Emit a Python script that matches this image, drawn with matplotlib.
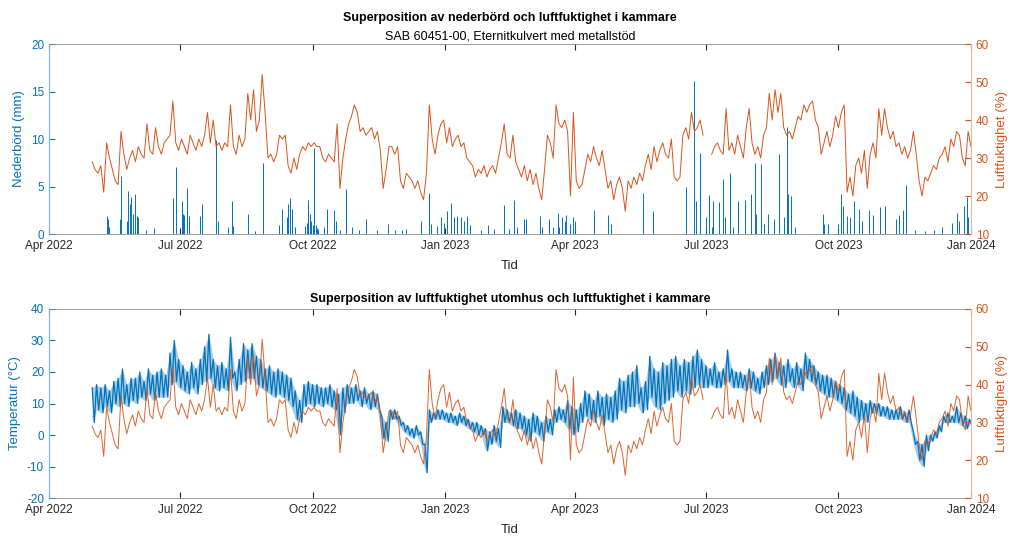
import numpy as np
import matplotlib
matplotlib.use('Agg')
import matplotlib.pyplot as plt
import matplotlib.dates as mdates

plt.rcParams['font.family'] = ['Liberation Sans', 'DejaVu Sans']
plt.rcParams['axes.unicode_minus'] = False

nan = np.nan

# mätningar börjar 1 maj 2022
START = np.datetime64('2022-05-01')

# luftfuktighet i kammare (%), ett värde varannan dag
HUM_STEP = 2
HUMIDITY = [
    29, 27, 26, 28, 21, 34, 30, 27, 24, 23,
    37, 31, 27, 30, 32, 29, 33, 31, 30, 39,
    32, 31, 38, 33, 31, 34, 35, 36, 45, 34,
    32, 35, 33, 31, 36, 34, 32, 35, 33, 36,
    42, 34, 40, 33, 34, 32, 34, 33, 44, 33,
    31, 36, 33, 35, 47, 40, 48, 37, 40, 52,
    42, 30, 31, 29, 31, 36, 35, 36, 28, 26,
    30, 27, 31, 33, 32, 34, 33, 34, 33, 33,
    30, 29, 31, 30, 29, 39, 22, 30, 35, 39,
    41, 44, 42, 37, 38, 36, 37, 38, 35, 37,
    32, 22, 27, 33, 33, 31, 33, 24, 22, 26,
    25, 24, 22, 24, 21, 19, 26, 44, 35, 31,
    36, 39, 40, 34, 38, 33, 35, 36, 33, 34,
    30, 29, 28, 25, 27, 26, 28, 25, 27, 28,
    26, 30, 34, 39, 31, 30, 36, 29, 27, 25,
    28, 24, 27, 23, 26, 22, 19, 27, 36, 34,
    30, 44, 39, 38, 40, 37, 20, 42, 24, 22,
    23, 27, 31, 29, 33, 30, 28, 32, 27, 22,
    24, 19, 23, 25, 22, 16, 24, 22, 25, 23,
    26, 24, 28, 31, 27, 33, 29, 32, 34, 31,
    30, 35, 25, 24, 25, 36, 38, 35, 42, 37,
    38, 40, 36, nan, nan, 31, 33, 34, 32, 31,
    43, 32, 34, 31, 36, 33, 30, 38, 43, 34,
    31, 33, 30, 36, 38, 47, 40, 48, 42, 47,
    38, 36, 37, 35, 38, 41, 40, 44, 42, 44,
    45, 40, 38, 31, 34, 37, 33, 36, 41, 38,
    42, 44, 21, 25, 20, 28, 30, 26, 32, 22,
    31, 34, 30, 43, 36, 43, 38, 35, 37, 33,
    34, 31, 33, 30, 32, 37, 31, 24, 20, 25,
    24, 26, 28, 27, 30, 31, 33, 29, 35, 33,
    37, 36, 30, 28, 37, 33,
]

# utomhustemperatur (°C), dygnets max/min var tredje dag
TEMP_STEP = 3
TEMP_HIGH = [
    15, 16, 15, 16, 14, 17, 18, 21, 16, 18,
    18, 20, 17, 21, 19, 20, 21, 19, 26, 30,
    24, 22, 20, 23, 21, 24, 28, 32, 24, 22,
    23, 21, 31, 20, 24, 29, 27, 29, 25, 24,
    21, 22, 20, 21, 20, 19, 18, 14, 11, 16,
    17, 16, 16, 15, 15, 16, 14, 13, 15, 16,
    15, 16, 14, 15, 13, 14, 13, 6, 4, 8,
    8, 6, 4, 3, 2, 3, 1, -3, 8, 7,
    8, 8, 7, 7, 6, 7, 6, 5, 4, 4,
    3, 2, 1, 3, 2, 9, 8, 7, 8, 7,
    6, 5, 7, 6, 4, 6, 5, 8, 9, 8,
    11, 9, 8, 10, 14, 13, 11, 14, 12, 13,
    12, 14, 18, 17, 19, 20, 22, 15, 17, 25,
    21, 20, 23, 22, 24, 25, 22, 24, 23, 25,
    27, 24, 22, 21, 23, 20, 21, 27, 21, 20,
    20, 19, 21, 20, 18, 20, 22, 24, 26, 23,
    22, 24, 21, 23, 21, 26, 24, 22, 20, 19,
    19, 18, 17, 16, 15, 13, 14, 12, 11, 10,
    11, 10, 10, 9, 9, 8, 8, 9, 7, 8,
    1, -2, -3, 0, 0, 1, 3, 6, 7, 6,
    9, 7, 6, 5,
]
TEMP_LOW = [
    4, 8, 7, 9, 7, 10, 9, 10, 9, 11,
    10, 12, 11, 13, 11, 12, 12, 12, 16, 17,
    15, 14, 13, 15, 13, 16, 17, 18, 15, 14,
    15, 14, 18, 14, 16, 17, 18, 18, 16, 15,
    14, 13, 12, 13, 12, 11, 9, 5, 4, 9,
    10, 9, 10, 9, 10, 9, 8, 0, 7, 10,
    10, 11, 9, 10, 8, 9, 8, -1, -2, 5,
    5, 3, 1, 0, -1, 0, -3, -12, 4, 5,
    5, 5, 4, 4, 3, 4, 3, 2, 1, 0,
    0, -5, -3, -2, -4, 4, 4, 3, 2, 2,
    0, -2, 1, 0, -2, 1, 0, 4, 5, 4,
    2, 0, 1, 4, 6, 5, 4, 6, 3, 5,
    4, 5, 8, 7, 9, 9, 10, 7, 8, 12,
    9, 8, 10, 11, 12, 14, 12, 14, 13, 15,
    16, 15, 15, 16, 15, 15, 16, 17, 15, 15,
    15, 14, 15, 14, 13, 15, 16, 17, 18, 16,
    15, 17, 15, 16, 14, 18, 17, 16, 14, 13,
    12, 12, 11, 10, 8, 7, 6, 4, 5, 4,
    7, 7, 6, 6, 5, 5, 5, 5, 4, 4,
    -3, -8, -10, -5, -2, -1, 1, 4, 4, 4,
    4, 3, 2, 3,
]

# nederbörd: dag efter START och mängd (mm)
RAIN_DAY = [
    10, 11, 12, 19, 20, 24, 25, 26, 27, 28, 30, 31, 32, 37, 43,
    56, 58, 62, 63, 64, 66, 67, 75, 76, 86, 87, 94, 97, 98, 108, 113, 118.5,
    130, 132, 135, 136, 137, 139, 141, 148, 149, 150, 151, 152, 153, 154,
    155, 156, 157, 161, 163, 168, 169, 172, 176, 180, 185, 190, 198, 205,
    210, 215, 218, 228, 233.5, 235, 239, 242, 244, 246, 249, 251, 253, 256,
    258, 260, 262, 270, 275, 279, 286, 289, 293, 295,
    300, 301, 311, 312, 317, 320, 323, 324, 326, 328, 329, 332, 334, 335,
    348, 358, 360, 382, 389, 412.5, 418, 419, 422, 426, 428, 430, 431, 435,
    438, 439, 443, 445, 448, 453, 457, 460, 461, 464, 466, 469, 473, 477,
    480, 482, 483, 485, 488, 507, 508, 511, 518, 520, 521, 524, 526, 529,
    532, 534, 539, 542, 547, 550, 558, 560, 563, 565, 571, 578, 584, 590,
    597, 600, 602, 605, 607, 608, 610,
]
RAIN_MM = [
    1.9, 1.6, 0.7, 1.6, 6.1, 1.4, 4.5, 3.2, 3.9, 2.1, 4.2, 1.9, 1.8, 0.4, 0.6,
    3.8, 7.1, 3.5, 2.1, 2.0, 4.8, 1.9, 1.9, 3.2, 9.9, 1.4, 0.7, 3.5, 0.8, 2.1, 0.3, 7.5,
    0.9, 2.6, 1.8, 3.2, 3.8, 2.6, 0.7, 0.8, 1.2, 3.6, 2.1, 1.4, 0.9, 9.1,
    1.0, 0.6, 0.5, 0.7, 2.6, 2.5, 1.4, 0.4, 4.7, 0.7, 0.4, 1.6, 0.4, 1.1,
    0.4, 0.4, 0.5, 1.4, 4.3, 1.1, 0.8, 1.8, 1.2, 2.4, 3.3, 1.8, 1.9, 1.8,
    1.4, 1.9, 0.9, 0.4, 1.0, 0.5, 3.1, 0.5, 3.6, 0.7,
    1.6, 1.6, 1.9, 0.7, 1.6, 0.7, 2.2, 0.7, 1.8, 1.4, 2.0, 1.1, 1.8, 1.4,
    2.5, 2.0, 1.1, 4.3, 2.4, 5.0, 16.1, 3.5, 8.5, 1.8, 4.1, 0.7, 3.5, 3.4,
    5.8, 1.8, 6.4, 0.7, 3.5, 3.6, 4.2, 7.5, 2.1, 7.4, 1.1, 2.1, 1.6, 8.4,
    1.8, 11.3, 4.2, 4.0, 0.7, 2.1, 1.1, 1.1, 1.1, 4.2, 3.0, 1.9, 1.8, 3.5,
    2.6, 1.4, 2.5, 2.0, 2.8, 2.9, 1.6, 2.0, 2.5, 5.2, 0.4, 0.3, 0.4, 0.7,
    1.2, 2.2, 1.4, 3.0, 3.9, 1.8, 1.7,
]

BLUE = '#0072BD'
ORANGE = '#D95319'
XLIM = (np.datetime64('2022-04-01'), np.datetime64('2024-01-01'))


def to_time(days):
    hours = np.round(np.asarray(days, dtype=float) * 24).astype(int)
    return START + hours.astype('timedelta64[h]')


hum_t = to_time(np.arange(len(HUMIDITY)) * HUM_STEP)
idx = np.arange(len(TEMP_HIGH)) * TEMP_STEP
temp_t = to_time(np.column_stack((idx, idx + TEMP_STEP / 2)).ravel())
temp_v = np.column_stack((TEMP_HIGH, TEMP_LOW)).ravel()
band_t = to_time(idx)
rain_t = to_time(RAIN_DAY)


def style(ax, axr, left_label, ylim, yticks):
    ax.set_xlim(*XLIM)
    ax.set_ylim(*ylim)
    ax.set_yticks(yticks)
    axr.set_ylim(10, 60)
    axr.set_yticks(range(10, 61, 10))
    ax.xaxis.set_major_locator(mdates.MonthLocator(bymonth=[1, 4, 7, 10]))
    ax.xaxis.set_major_formatter(mdates.DateFormatter('%b %Y'))
    ax.tick_params(axis='x', direction='in', length=4, top=True,
                   labelsize=8.5, colors='#262626', pad=4)
    ax.tick_params(axis='y', direction='in', length=4, labelsize=8.5,
                   colors=BLUE, labelcolor=BLUE)
    axr.tick_params(axis='y', direction='in', length=4, labelsize=8.5,
                    colors=ORANGE, labelcolor=ORANGE)
    ax.set_ylabel(left_label, color=BLUE, fontsize=9.5, labelpad=4)
    axr.set_ylabel('Luftfuktighet (%)', color=ORANGE, fontsize=9.5, labelpad=5)
    ax.set_xlabel('Tid', fontsize=9.5, color='#262626', labelpad=6)
    for s in ['top', 'bottom']:
        ax.spines[s].set_color('#8a8a8a')
        ax.spines[s].set_linewidth(0.6)
        axr.spines[s].set_visible(False)
    ax.spines['right'].set_visible(False)
    axr.spines['left'].set_visible(False)
    ax.spines['left'].set_color('#7fb3d8')
    axr.spines['right'].set_color('#e3b89f')
    ax.spines['left'].set_linewidth(0.8)
    axr.spines['right'].set_linewidth(0.8)


fig = plt.figure(figsize=(10.14, 5.37), dpi=100)

# övre: nederbörd och luftfuktighet
ax1 = fig.add_axes([0.0483, 0.5642, 0.9093, 0.3538])
ax1r = ax1.twinx()
ax1.vlines(rain_t, 0, RAIN_MM, color=BLUE, linewidth=0.7)
ax1r.plot(hum_t, HUMIDITY, color=ORANGE, linewidth=0.7)
style(ax1, ax1r, 'Nederbörd (mm)', (0, 20), range(0, 21, 5))
ax1.text(0.5, 1.135, 'Superposition av nederbörd och luftfuktighet i kammare',
         transform=ax1.transAxes, ha='center', va='center',
         fontsize=9, fontweight='bold')
ax1.text(0.5, 1.04, 'SAB 60451-00, Eternitkulvert med metallstöd',
         transform=ax1.transAxes, ha='center', va='center', fontsize=9)

# nedre: temperatur och luftfuktighet
ax2 = fig.add_axes([0.0483, 0.0726, 0.9093, 0.352])
ax2r = ax2.twinx()
ax2.fill_between(band_t, TEMP_LOW, TEMP_HIGH, color=BLUE, alpha=0.35,
                 linewidth=0)
ax2.plot(temp_t, temp_v, color=BLUE, linewidth=0.9)
ax2r.plot(hum_t, HUMIDITY, color=ORANGE, linewidth=0.7, alpha=0.9)
style(ax2, ax2r, 'Temperatur (°C)', (-20, 40), range(-20, 41, 10))
ax2.text(0.5, 1.055,
         'Superposition av luftfuktighet utomhus och luftfuktighet i kammare',
         transform=ax2.transAxes, ha='center', va='center',
         fontsize=9, fontweight='bold')

fig.savefig('out.png', dpi=100)
